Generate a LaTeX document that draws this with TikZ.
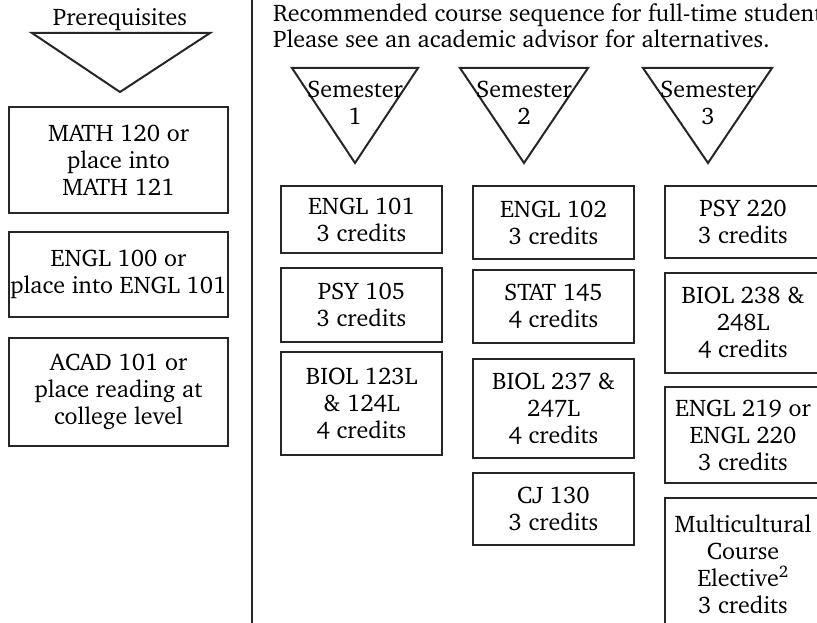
\documentclass[tikz,border=0pt]{standalone}
\usepackage[T1]{fontenc}
\usepackage{charter}
\begin{document}
\begin{tikzpicture}[x=1pt,y=-1pt,
	course/.style={draw=black!85,line width=2pt,inner sep=0pt,align=center,font=\fontsize{24}{27}\selectfont},
	tri/.style={draw=black!85,line width=2pt,line join=miter},
	tritext/.style={inner sep=0pt,align=center,font=\fontsize{24}{27}\selectfont}]
	\useasboundingbox (0,0) rectangle (817,623);

	% divider
	\draw[line width=2pt,black!85] (252,0) -- (252,623);

	% prerequisites
	\node[tritext] (pre) at (120,19) {Prerequisites};
	\draw[tri] (32,33) -- (210,33) -- (120,92) -- cycle;
	\node[course,minimum width=219pt,minimum height=106pt] (math) at (118.5,160) {MATH 120 or\\place into\\MATH 121};
	\node[course,minimum width=219pt,minimum height=85pt] (engl) at (118.5,274.5) {ENGL 100 or\\place into ENGL 101};
	\node[course,minimum width=219pt,minimum height=108pt] (acad) at (118.5,392) {ACAD 101 or\\place reading at\\college level};

	% sequence
	\node[tritext,anchor=north west,align=left,font=\fontsize{24}{25.5}\selectfont] (intro) at (273,4) {Recommended course sequence for full-time students.\\Please see an academic advisor for alternatives.};

	\draw[tri] (292,68) -- (418,68) -- (355,163) -- cycle;
	\draw[tri] (460,68) -- (588,68) -- (524,163) -- cycle;
	\draw[tri] (643,68) -- (772,68) -- (708,163) -- cycle;
	\node[tritext] (sem1) at (355,103) {Semester\\1};
	\node[tritext] (sem2) at (524,103) {Semester\\2};
	\node[tritext] (sem3) at (708,103) {Semester\\3};

	% semester 1
	\node[course,minimum width=161pt,minimum height=67pt] (engl101) at (361.5,219.5) {ENGL 101\\3 credits};
	\node[course,minimum width=161pt,minimum height=74pt] (psy105) at (361.5,305) {PSY 105\\3 credits};
	\node[course,minimum width=161pt,minimum height=103pt] (biol123) at (361.5,403.5) {BIOL 123L\\\& 124L\\4 credits};

	% semester 2
	\node[course,minimum width=161pt,minimum height=73pt] (engl102) at (553.5,222.5) {ENGL 102\\3 credits};
	\node[course,minimum width=161pt,minimum height=73pt] (stat145) at (553.5,306.5) {STAT 145\\4 credits};
	\node[course,minimum width=161pt,minimum height=99pt] (biol237) at (553.5,408.5) {BIOL 237 \&\\247L\\4 credits};
	\node[course,minimum width=161pt,minimum height=72pt] (cj130) at (553.5,509) {CJ 130\\3 credits};

	% semester 3
	\node[course,minimum width=156pt,minimum height=72pt] (psy220) at (743,222) {PSY 220\\3 credits};
	\node[course,minimum width=156pt,minimum height=100pt] (biol238) at (743,323) {BIOL 238 \&\\248L\\4 credits};
	\node[course,minimum width=156pt,minimum height=96pt] (engl219) at (743,435) {ENGL 219 or\\ENGL 220\\3 credits};
	\node[course,minimum width=156pt,minimum height=132pt] (multi) at (743,564) {Multicultural\\Course\\Elective\textsuperscript{2}\\3 credits};
\end{tikzpicture}
\end{document}
